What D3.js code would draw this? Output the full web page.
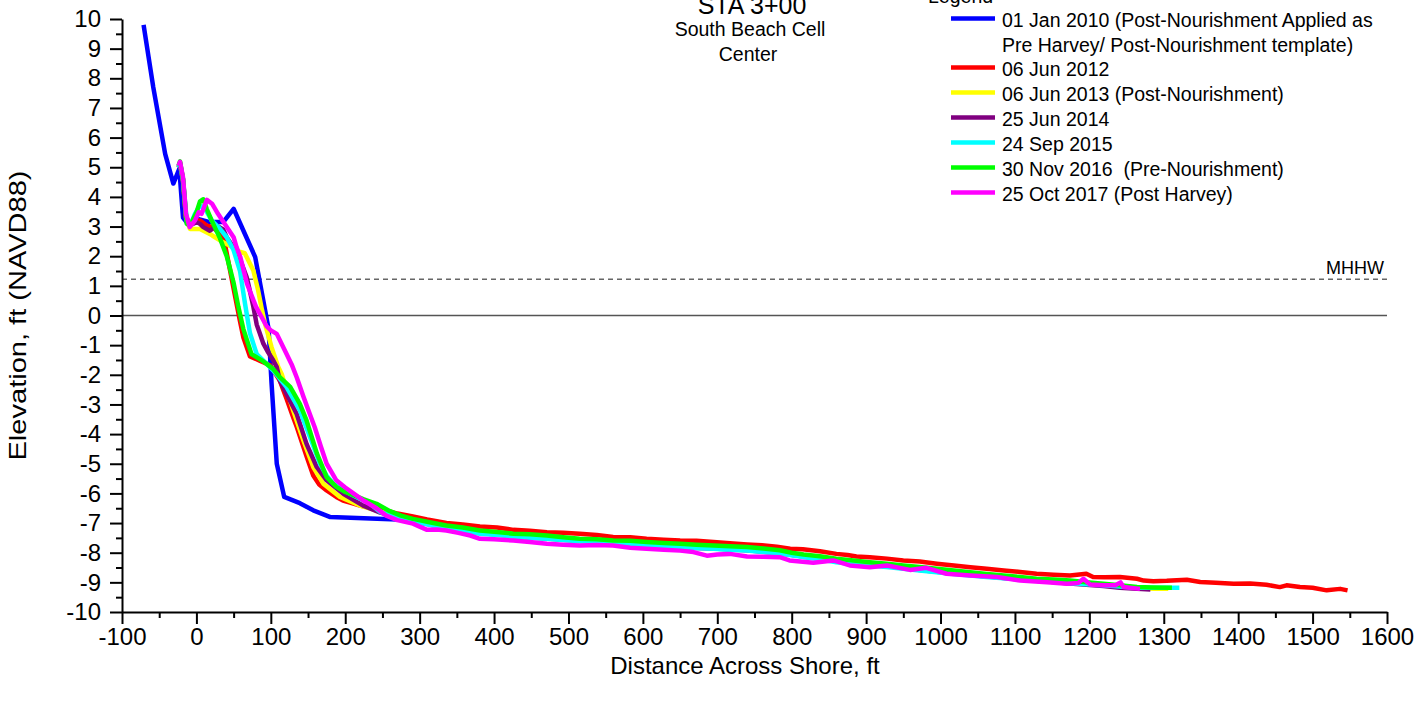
<!DOCTYPE html>
<html>
<head>
<meta charset="utf-8">
<script src="https://cdn.jsdelivr.net/npm/d3@7/dist/d3.min.js"></script>
<style>
  html, body { margin: 0; padding: 0; background: #fff; }
  svg { display: block; font-family: "Liberation Sans", Arial, sans-serif; }
  text { white-space: pre; }
</style>
</head>
<body>
<svg id="chart" width="1419" height="704"></svg>
<script>
// ---------------- DATA ----------------
const xTickValues = [-100,0,100,200,300,400,500,600,700,800,900,1000,1100,1200,1300,1400,1500,1600];
const yTickValues = [-10,-9,-8,-7,-6,-5,-4,-3,-2,-1,0,1,2,3,4,5,6,7,8,9,10];
const mhhwLevel = 1.22;

const legendLabels = [
  ["01 Jan 2010 (Post-Nourishment Applied as", "Pre Harvey/ Post-Nourishment template)"],
  ["06 Jun 2012"],
  ["06 Jun 2013 (Post-Nourishment)"],
  ["25 Jun 2014"],
  ["24 Sep 2015"],
  ["30 Nov 2016  (Pre-Nourishment)"],
  ["25 Oct 2017 (Post Harvey)"]
];
const seriesColors = ["#0000ff","#ff0000","#ffff00","#800080","#00ffff","#00ff00","#ff00ff"];

const survey2010 = [[-71,9.8],[-58,7.7],[-42,5.45],[-31,4.45],[-23,4.95],[-18,3.3],[-10,3.05],[3,3.25],[18,3.15],[36,3.15],[50,3.6],[79,1.97],[97,-0.45],[101,-2.3],[108,-5.0],[118,-6.12],[139,-6.33],[157,-6.57],[180,-6.8],[270,-6.88]];

const survey2012 = [[-24,5.0],[-22,5.15],[-18,4.6],[-14,3.35],[-9,3.05],[-4,3.2],[5,3.2],[14,3.03],[23,2.98],[27,2.86],[34,2.69],[38,2.45],[45,1.55],[52,0.65],[58.6,-0.2],[63,-0.73],[72,-1.38],[85,-1.52],[99,-1.68],[112,-2.19],[121,-2.8],[130,-3.43],[135,-3.77],[148,-4.75],[157,-5.4],[165,-5.7],[175,-5.9],[188,-6.12],[197,-6.24],[211,-6.34],[220,-6.41],[238,-6.51],[256,-6.58],[270,-6.68],[291,-6.78],[310,-6.88],[336,-7.0],[358,-7.05],[381,-7.12],[404,-7.15],[426,-7.23],[448,-7.26],[471,-7.31],[493,-7.33],[515,-7.36],[538,-7.4],[560,-7.47],[583,-7.48],[605,-7.53],[628,-7.56],[650,-7.59],[672,-7.6],[695,-7.64],[717,-7.68],[740,-7.72],[760,-7.75],[780,-7.8],[798,-7.87],[815,-7.88],[838,-7.95],[860,-8.04],[875,-8.08],[887,-8.13],[905,-8.15],[928,-8.2],[950,-8.26],[972,-8.3],[995,-8.37],[1018,-8.43],[1040,-8.49],[1062,-8.54],[1085,-8.6],[1107,-8.65],[1129,-8.71],[1152,-8.74],[1174,-8.77],[1196,-8.71],[1205,-8.82],[1220,-8.83],[1241,-8.82],[1264,-8.88],[1273,-8.94],[1286,-8.96],[1304,-8.95],[1331,-8.91],[1349,-8.99],[1370,-9.01],[1394,-9.05],[1416,-9.04],[1438,-9.08],[1456,-9.16],[1465,-9.1],[1483,-9.16],[1500,-9.18],[1519,-9.27],[1537,-9.22],[1547,-9.27]];

const survey2013 = [[-24,5.0],[-22,5.1],[-18,4.55],[-14,3.3],[-8.6,2.92],[4.8,2.92],[18,2.75],[25,2.64],[31.7,2.53],[45,2.35],[50,2.3],[58,2.15],[65,2.1],[70,1.85],[76.5,1.52],[83,0.84],[88,0.2],[92.2,-0.28],[101,-1.07],[110,-1.74],[115,-2.0],[130,-3.2],[143.7,-4.21],[157,-5.11],[170.5,-5.67],[193,-6.12],[219.6,-6.41],[245,-6.6],[270,-6.75],[291,-6.9],[315,-7.02],[336,-7.12],[358,-7.2],[381,-7.3],[404,-7.35],[426,-7.4],[448,-7.44],[471,-7.48],[493,-7.52],[515,-7.57],[538,-7.6],[560,-7.62],[583,-7.66],[605,-7.7],[628,-7.74],[650,-7.76],[672,-7.8],[695,-7.82],[717,-7.85],[740,-7.88],[762,-7.92],[784,-7.98],[816,-8.1],[838,-8.16],[860,-8.25],[883,-8.32],[905,-8.37],[928,-8.42],[950,-8.48],[972,-8.54],[995,-8.6],[1018,-8.66],[1040,-8.72],[1062,-8.77],[1085,-8.82],[1107,-8.86],[1129,-8.92],[1152,-8.95],[1174,-9.0],[1196,-9.04],[1219,-9.08],[1241,-9.12],[1264,-9.18],[1286,-9.22],[1306,-9.22]];

const survey2014 = [[-24,5.0],[-22,5.1],[-18,4.55],[-14,3.3],[-8,3.05],[0.4,3.15],[4.8,3.09],[9.3,2.98],[18,2.86],[27.3,3.03],[36,2.9],[40.7,2.64],[47,2.4],[54,2.08],[58.6,1.9],[67.6,1.29],[69.7,1.07],[76.5,0.3],[81,-0.3],[85.5,-0.62],[90,-0.95],[96.6,-1.25],[103,-1.5],[108,-1.74],[112,-2.19],[134.8,-3.32],[148,-4.33],[161.7,-5.11],[175,-5.56],[197.4,-6.01],[224,-6.41],[247,-6.65],[270,-6.8],[291,-6.93],[315,-7.06],[336,-7.17],[358,-7.25],[381,-7.34],[404,-7.39],[426,-7.44],[448,-7.49],[471,-7.52],[493,-7.56],[515,-7.6],[538,-7.62],[560,-7.65],[583,-7.69],[605,-7.74],[628,-7.77],[650,-7.8],[672,-7.84],[695,-7.86],[717,-7.89],[740,-7.92],[762,-7.97],[784,-8.02],[816,-8.13],[838,-8.2],[860,-8.3],[883,-8.36],[905,-8.41],[928,-8.46],[950,-8.52],[972,-8.58],[995,-8.64],[1018,-8.7],[1040,-8.75],[1062,-8.8],[1085,-8.85],[1107,-8.9],[1129,-8.95],[1152,-8.99],[1174,-9.04],[1196,-9.08],[1219,-9.12],[1241,-9.18],[1264,-9.22],[1282,-9.24]];

const survey2015 = [[-24,5.0],[-22,5.15],[-18,4.6],[-13,3.2],[-8,3.05],[-2,3.43],[4.8,3.71],[11.6,3.6],[20.6,3.2],[31.7,2.92],[40.7,2.64],[47,2.35],[50,2.2],[58.6,1.5],[65.3,0.4],[72,-0.6],[81,-1.3],[94.5,-1.63],[103,-1.85],[121,-2.41],[139,-3.2],[152.6,-4.1],[166,-5.0],[175,-5.4],[184,-5.67],[206,-6.01],[233,-6.34],[247,-6.63],[270,-6.8],[291,-6.94],[315,-7.07],[336,-7.19],[358,-7.27],[381,-7.36],[404,-7.4],[426,-7.45],[448,-7.5],[471,-7.53],[493,-7.57],[515,-7.61],[538,-7.62],[560,-7.64],[583,-7.7],[605,-7.76],[628,-7.78],[650,-7.81],[672,-7.84],[695,-7.87],[717,-7.9],[740,-7.93],[762,-7.98],[784,-8.03],[816,-8.15],[838,-8.22],[860,-8.32],[883,-8.38],[905,-8.43],[928,-8.48],[950,-8.54],[972,-8.6],[995,-8.66],[1018,-8.72],[1040,-8.77],[1062,-8.82],[1085,-8.86],[1107,-8.9],[1129,-8.94],[1152,-8.98],[1174,-9.03],[1196,-9.06],[1219,-9.1],[1241,-9.14],[1264,-9.18],[1290,-9.18],[1321,-9.18]];

const survey2016 = [[-24,5.05],[-22,5.2],[-18,4.6],[-13,3.09],[-8.6,3.03],[0.4,3.5],[4.8,3.85],[9.3,3.92],[13.8,3.6],[20.6,3.2],[31.7,2.6],[40.7,2.0],[45,1.6],[50,1.1],[56.3,0.3],[63,-0.45],[74,-1.3],[90,-1.55],[103,-1.8],[112,-2.08],[126,-2.41],[139,-2.98],[148,-3.54],[162,-4.66],[175,-5.45],[188,-5.78],[200,-5.95],[211,-6.06],[225,-6.2],[242,-6.35],[260,-6.6],[275,-6.75],[291,-6.86],[315,-6.98],[336,-7.08],[358,-7.15],[381,-7.25],[404,-7.3],[426,-7.36],[448,-7.38],[471,-7.42],[493,-7.48],[515,-7.53],[538,-7.55],[560,-7.59],[583,-7.6],[605,-7.64],[628,-7.67],[650,-7.7],[672,-7.73],[695,-7.76],[717,-7.78],[740,-7.81],[762,-7.86],[784,-7.92],[800,-8.0],[816,-8.06],[838,-8.12],[860,-8.2],[883,-8.26],[905,-8.32],[928,-8.37],[950,-8.43],[972,-8.48],[995,-8.54],[1018,-8.6],[1040,-8.66],[1062,-8.72],[1085,-8.77],[1107,-8.82],[1129,-8.88],[1152,-8.9],[1174,-8.94],[1196,-9.0],[1219,-9.05],[1241,-9.1],[1264,-9.16],[1286,-9.17],[1311,-9.18]];

const survey2017 = [[-24,5.05],[-22,5.18],[-18,4.66],[-14,3.43],[-9,2.98],[-2,3.2],[3,3.48],[7,3.43],[14,3.9],[21,3.77],[29,3.43],[41,2.98],[50,2.64],[54,2.3],[59,1.97],[68,1.07],[80,0.3],[94.5,-0.37],[100,-0.5],[108,-0.62],[121,-1.29],[128,-1.65],[135,-2.1],[144,-2.75],[152,-3.3],[159,-3.77],[167,-4.4],[175,-5.0],[182,-5.3],[188,-5.56],[200,-5.8],[211,-6.0],[225,-6.25],[242,-6.5],[255,-6.75],[270,-6.9],[291,-7.02],[300,-7.12],[310,-7.23],[323,-7.22],[336,-7.25],[352,-7.33],[368,-7.42],[381,-7.53],[400,-7.55],[426,-7.59],[448,-7.64],[471,-7.7],[493,-7.73],[515,-7.76],[538,-7.74],[560,-7.76],[583,-7.83],[605,-7.87],[628,-7.9],[650,-7.93],[668,-7.98],[686,-8.1],[700,-8.06],[717,-8.04],[740,-8.13],[762,-8.14],[784,-8.15],[797,-8.26],[829,-8.34],[856,-8.26],[878,-8.43],[905,-8.49],[928,-8.43],[959,-8.58],[981,-8.51],[1008,-8.71],[1040,-8.77],[1076,-8.82],[1107,-8.94],[1143,-9.0],[1170,-9.05],[1185,-9.02],[1192,-8.88],[1201,-9.07],[1219,-9.1],[1235,-9.1],[1242,-9.0],[1246,-9.16],[1268,-9.22]];

const allSeries = [survey2010, survey2012, survey2013, survey2014, survey2015, survey2016, survey2017];

// ---------------- CHART ----------------
const svg = d3.select("#chart");
const font = "'Liberation Sans', Arial, sans-serif";

const x = d3.scaleLinear().domain([-100, 1600]).range([122, 1387]);
const y = d3.scaleLinear().domain([-10, 10]).range([612, 19]);

// reference lines
svg.append("line")
  .attr("x1", x(-100)).attr("x2", x(1600))
  .attr("y1", y(0)).attr("y2", y(0))
  .attr("stroke", "#555").attr("stroke-width", 1.5);
svg.append("line")
  .attr("x1", x(-100)).attr("x2", x(1600))
  .attr("y1", y(mhhwLevel)).attr("y2", y(mhhwLevel))
  .attr("stroke", "#666").attr("stroke-width", 1.5)
  .attr("stroke-dasharray", "5,4");
svg.append("text")
  .attr("x", 1384).attr("y", y(mhhwLevel) - 5)
  .attr("text-anchor", "end")
  .attr("font-size", 18).attr("font-family", font)
  .text("MHHW");

// series
const line = d3.line().x(d => x(d[0])).y(d => y(d[1]));
allSeries.forEach((s, i) => {
  svg.append("path")
    .datum(s)
    .attr("d", line)
    .attr("fill", "none")
    .attr("stroke", seriesColors[i])
    .attr("stroke-width", 4.5)
    .attr("stroke-linejoin", "round")
    .attr("stroke-linecap", "butt");
});

// axes
const minorY = d3.range(-9.5, 10, 1);
const minorX = d3.range(-50, 1600, 100);
const plainFmt = d => String(d);

svg.append("g").attr("transform", `translate(${x(-100)},0)`)
  .call(d3.axisLeft(y).tickValues(yTickValues).tickSize(12).tickPadding(9).tickSizeOuter(0).tickFormat(plainFmt));
svg.append("g").attr("transform", `translate(${x(-100)},0)`)
  .call(d3.axisLeft(y).tickValues(minorY).tickSize(6).tickFormat("").tickSizeOuter(0))
  .call(g => g.select(".domain").remove());

svg.append("g").attr("transform", `translate(0,${y(-10)})`)
  .call(d3.axisBottom(x).tickValues(xTickValues).tickSize(12).tickPadding(4).tickSizeOuter(0).tickFormat(plainFmt));
svg.append("g").attr("transform", `translate(0,${y(-10)})`)
  .call(d3.axisBottom(x).tickValues(minorX).tickSize(6).tickFormat("").tickSizeOuter(0))
  .call(g => g.select(".domain").remove());

svg.selectAll(".domain").attr("stroke", "#000").attr("stroke-width", 2);
svg.selectAll(".tick line").attr("stroke", "#000").attr("stroke-width", 2);
svg.selectAll(".tick text").attr("font-size", 24).attr("font-family", font).attr("fill", "#000");

// axis titles
svg.append("text")
  .attr("x", 745).attr("y", 674)
  .attr("text-anchor", "middle")
  .attr("font-size", 24).attr("font-family", font)
  .text("Distance Across Shore, ft");
svg.append("text")
  .attr("transform", `translate(26,${y(0)}) rotate(-90)`)
  .attr("text-anchor", "middle")
  .attr("font-size", 24).attr("font-family", font)
  .attr("textLength", 290).attr("lengthAdjust", "spacingAndGlyphs")
  .text("Elevation, ft (NAVD88)");

// titles
svg.append("text").attr("x", 752).attr("y", 14).attr("text-anchor", "middle")
  .attr("font-size", 25).attr("font-family", font).text("STA 3+00");
svg.append("text").attr("x", 750).attr("y", 36).attr("text-anchor", "middle")
  .attr("font-size", 19.5).attr("font-family", font).text("South Beach Cell");
svg.append("text").attr("x", 748).attr("y", 61).attr("text-anchor", "middle")
  .attr("font-size", 19.5).attr("font-family", font).text("Center");

// legend
svg.append("text").attr("x", 928).attr("y", 3)
  .attr("font-size", 19.5).attr("font-family", font).text("Legend");
const rowY = [20, 69, 94, 119, 144, 169, 194];
const legend = svg.append("g");
legendLabels.forEach((lab, i) => {
  legend.append("line")
    .attr("x1", 951).attr("x2", 995)
    .attr("y1", rowY[i] - 1.5).attr("y2", rowY[i] - 1.5)
    .attr("stroke", seriesColors[i]).attr("stroke-width", 4.5);
  lab.forEach((t, j) => {
    legend.append("text")
      .attr("x", 1002).attr("y", rowY[i] + 7 + j * 24.5)
      .attr("font-size", 19.5).attr("font-family", font)
      .text(t);
  });
});
</script>
</body>
</html>
